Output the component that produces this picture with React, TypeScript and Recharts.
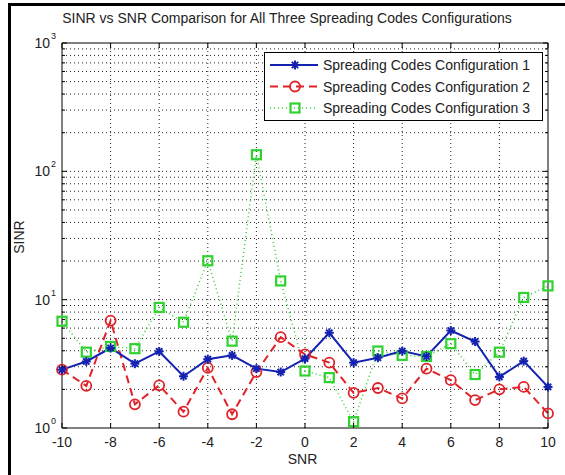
import { CartesianGrid, Legend, Line, LineChart, XAxis, YAxis } from "recharts";

const snr = [-10, -9, -8, -7, -6, -5, -4, -3, -2, -1, 0, 1, 2, 3, 4, 5, 6, 7, 8, 9, 10];
const config1 = [2.85, 3.3, 4.2, 3.17, 3.95, 2.53, 3.44, 3.68, 2.9, 2.73, 3.47, 5.52, 3.23, 3.53, 3.98, 3.61, 5.75, 4.72, 2.5, 3.32, 2.09];
const config2 = [2.85, 2.13, 6.87, 1.53, 2.15, 1.34, 2.94, 1.28, 2.73, 5.1, 3.75, 3.23, 1.88, 2.05, 1.7, 2.9, 2.36, 1.65, 2.0, 2.09, 1.3];
const config3 = [6.79, 3.9, 4.32, 4.15, 8.7, 6.67, 20.1, 4.75, 134.7, 14.0, 2.78, 2.47, 1.12, 3.98, 3.68, 3.61, 4.54, 2.61, 3.9, 10.4, 12.8];

const xTicks = [-10, -8, -6, -4, -2, 0, 2, 4, 6, 8, 10];
const xGrid = [-8, -6, -4, -2, 0, 2, 4, 6, 8];
const yMajor = [1, 10, 100, 1000];
const yMinor = [1, 2, 3, 4, 5, 6, 7, 8, 9, 10, 20, 30, 40, 50, 60, 70, 80, 90, 100, 200, 300, 400, 500, 600, 700, 800, 900, 1000];
const yGrid = [2, 3, 4, 5, 6, 7, 8, 9, 10, 20, 30, 40, 50, 60, 70, 80, 90, 100, 200, 300, 400, 500, 600, 700, 800, 900];

const names = ["Spreading Codes Configuration 1", "Spreading Codes Configuration 2", "Spreading Codes Configuration 3"];

const data = snr.map((s, i) => ({ snr: s, c1: config1[i], c2: config2[i], c3: config3[i] }));

const FONT = "'Liberation Sans', Arial, sans-serif";
const BLUE = "#1422b0";
const RED = "#e02228";
const GREEN = "#2fd22f";

function Star({ cx, cy }: { cx: number; cy: number }) {
  const r = 4.5;
  const d = r * 0.7;
  return (
    <g stroke={BLUE} strokeWidth={2}>
      <line x1={cx - r} y1={cy} x2={cx + r} y2={cy} />
      <line x1={cx} y1={cy - r} x2={cx} y2={cy + r} />
      <line x1={cx - d} y1={cy - d} x2={cx + d} y2={cy + d} />
      <line x1={cx - d} y1={cy + d} x2={cx + d} y2={cy - d} />
    </g>
  );
}

function Ring({ cx, cy }: { cx: number; cy: number }) {
  return <circle cx={cx} cy={cy} r={5} fill="none" stroke={RED} strokeWidth={1.8} />;
}

function Box({ cx, cy }: { cx: number; cy: number }) {
  return <rect x={cx - 4.5} y={cy - 4.5} width={9} height={9} fill="none" stroke={GREEN} strokeWidth={2.2} />;
}

const starDot = (p: any) => <Star key={`s${p.index}`} cx={p.cx} cy={p.cy} />;
const ringDot = (p: any) => <Ring key={`r${p.index}`} cx={p.cx} cy={p.cy} />;
const boxDot = (p: any) => <Box key={`b${p.index}`} cx={p.cx} cy={p.cy} />;

function BottomTick({ x, y, payload }: any) {
  return (
    <g>
      <line x1={x} x2={x} y1={y} y2={y - 5} stroke="#000" />
      <text x={x} y={y + 19} textAnchor="middle" fontSize={14} fontFamily={FONT} fill="#222">
        {payload.value}
      </text>
    </g>
  );
}

function TopTick({ x, y }: any) {
  return <line x1={x} x2={x} y1={y} y2={y + 5} stroke="#000" />;
}

function LeftTick({ x, y, payload }: any) {
  const v = payload.value;
  const major = yMajor.includes(v);
  return (
    <g>
      <line x1={x} x2={x + (major ? 5 : 3)} y1={y} y2={y} stroke="#000" />
      {major && (
        <text x={x - 12} y={y + 5} textAnchor="end" fontSize={14} fontFamily={FONT} fill="#222">
          10
        </text>
      )}
      {major && (
        <text x={x - 11} y={y - 4} fontSize={9} fontFamily={FONT} fill="#222">
          {Math.round(Math.log10(v))}
        </text>
      )}
    </g>
  );
}

function RightTick({ x, y, payload }: any) {
  const major = yMajor.includes(payload.value);
  return <line x1={x} x2={x - (major ? 5 : 3)} y1={y} y2={y} stroke="#000" />;
}

function LegendBox() {
  const rows = [
    { stroke: BLUE, dash: undefined, width: 2, Mark: Star },
    { stroke: RED, dash: "8 5", width: 2, Mark: Ring },
    { stroke: GREEN, dash: "1 3", width: 1.5, Mark: Box },
  ];
  return (
    <svg width={280} height={70} style={{ display: "block" }}>
      <rect x={0.5} y={0.5} width={278} height={68} fill="#fff" stroke="#000" />
      {rows.map((r, i) => {
        const cy = 13 + i * 21.5;
        return (
          <g key={i}>
            <line x1={6} x2={54} y1={cy} y2={cy} stroke={r.stroke} strokeWidth={r.width} strokeDasharray={r.dash} />
            <r.Mark cx={31} cy={cy} />
            <text x={59} y={cy + 5} fontSize={14} fontFamily={FONT} fill="#222">
              {names[i]}
            </text>
          </g>
        );
      })}
    </svg>
  );
}

export default function App() {
  return (
    <div style={{ position: "absolute", left: 0, top: 0, width: 565, height: 475, background: "#fff", overflow: "hidden" }}>
      <div style={{ position: "absolute", left: 8, top: 3, right: -10, bottom: -10, borderLeft: "3px solid #000", borderTop: "3px solid #000" }} />
      <LineChart width={565} height={475} data={data} margin={{ top: 0, right: 0, bottom: 0, left: 0 }}>
        <CartesianGrid
          xAxisId="b"
          yAxisId="l"
          stroke="#222"
          strokeDasharray="1 3"
          verticalValues={xGrid}
          horizontalValues={yGrid}
        />
        <XAxis
          xAxisId="b"
          dataKey="snr"
          type="number"
          domain={[-10, 10]}
          ticks={xTicks}
          height={47}
          tickSize={0}
          tickMargin={0}
          tickLine={false}
          axisLine={{ stroke: "#000" }}
          tick={<BottomTick />}
          interval={0}
        />
        <XAxis
          xAxisId="t"
          orientation="top"
          dataKey="snr"
          type="number"
          domain={[-10, 10]}
          ticks={xTicks}
          height={43}
          tickSize={0}
          tickMargin={0}
          tickLine={false}
          axisLine={{ stroke: "#000" }}
          tick={<TopTick />}
          interval={0}
        />
        <YAxis
          yAxisId="l"
          scale="log"
          domain={[1, 1000]}
          allowDataOverflow
          ticks={yMinor}
          width={62}
          tickSize={0}
          tickMargin={0}
          tickLine={false}
          axisLine={{ stroke: "#000" }}
          tick={<LeftTick />}
          interval={0}
        />
        <YAxis
          yAxisId="r"
          orientation="right"
          scale="log"
          domain={[1, 1000]}
          allowDataOverflow
          ticks={yMinor}
          width={17}
          tickSize={0}
          tickMargin={0}
          tickLine={false}
          axisLine={{ stroke: "#000" }}
          tick={<RightTick />}
          interval={0}
        />
        <Legend
          layout="horizontal"
          verticalAlign="middle"
          align="center"
          content={() => <LegendBox />}
          wrapperStyle={{ left: 264, top: 52, width: 280, height: 70 }}
        />
        <Line xAxisId="b" yAxisId="l" dataKey="c3" name={names[2]} stroke={GREEN} strokeWidth={1.5} strokeDasharray="1 3" dot={boxDot} isAnimationActive={false} />
        <Line xAxisId="b" yAxisId="l" dataKey="c2" name={names[1]} stroke={RED} strokeWidth={2} strokeDasharray="8 5" dot={ringDot} isAnimationActive={false} />
        <Line xAxisId="b" yAxisId="l" dataKey="c1" name={names[0]} stroke={BLUE} strokeWidth={2} dot={starDot} isAnimationActive={false} />
      </LineChart>
      <div style={{ position: "absolute", left: 0, width: 574, top: 10, textAlign: "center", fontFamily: FONT, fontSize: 14, color: "#222", whiteSpace: "nowrap" }}>
        SINR vs SNR Comparison for All Three Spreading Codes Configurations
      </div>
      <div style={{ position: "absolute", left: 0, width: 605, top: 451, textAlign: "center", fontFamily: FONT, fontSize: 14, color: "#222" }}>
        SNR
      </div>
      <div style={{ position: "absolute", left: 19, top: 237, transform: "translate(-50%, -50%) rotate(-90deg)", fontFamily: FONT, fontSize: 14, color: "#222" }}>
        SINR
      </div>
    </div>
  );
}
